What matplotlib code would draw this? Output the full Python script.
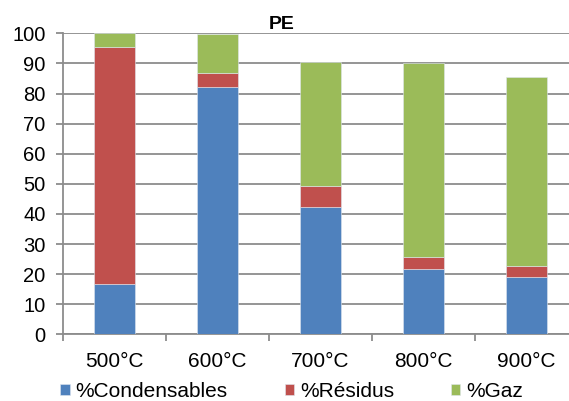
import matplotlib
matplotlib.use("Agg")
import matplotlib.pyplot as plt
import numpy as np

plt.rcParams['font.family'] = ['Liberation Sans', 'DejaVu Sans']

categories = ['500°C', '600°C', '700°C', '800°C', '900°C']
condensables = [16.6, 82.2, 42.2, 21.7, 18.9]
residus = [78.7, 4.7, 7.2, 4.0, 3.9]
gaz = [4.7, 12.9, 41.1, 64.3, 62.8]
series_names = ['%Condensables', '%Résidus', '%Gaz']
colors = ['#4F81BD', '#C0504D', '#9BBB59']

fig = plt.figure(figsize=(5.69, 4.01), dpi=100)
ax = fig.add_axes([62.7/569, (401-334.3)/401, 515/569, (334.3-33.3)/401])

x = np.arange(len(categories))
bottom = np.zeros(len(categories))
for vals, name, col in zip([condensables, residus, gaz], series_names, colors):
    ax.bar(x, vals, 0.4, bottom=bottom, color=col, label=name,
           edgecolor='#dfe6ef', linewidth=0.4, zorder=3)
    bottom += np.array(vals)

ax.set_xlim(-0.5, len(categories) - 0.5)
ax.set_ylim(0, 100)
ax.set_yticks(np.arange(0, 101, 10))
ax.yaxis.grid(True, color='#8c8c8c', linewidth=1.3, zorder=0)
ax.set_axisbelow(True)

fs = 15
ax.set_xticks(x)
ax.set_xticklabels(categories, fontsize=fs)
ax.set_xticks(np.arange(-0.5, len(categories)), minor=True)
ax.tick_params(axis='x', which='major', length=0, pad=13)
ax.tick_params(axis='x', which='minor', length=5, color='#8c8c8c', width=1.3)
ax.tick_params(axis='y', length=4.8, color='#8c8c8c', width=1.3, labelsize=14.5, pad=7.5)

for s in ['top', 'right']:
    ax.spines[s].set_visible(False)
for s in ['left', 'bottom']:
    ax.spines[s].set_color('#8c8c8c')
    ax.spines[s].set_linewidth(1.3)

fig.text(282/569, (401-29.3)/401, 'PE', fontsize=14, fontweight='bold',
         ha='center', va='baseline')

leg = fig.legend(loc='center', bbox_to_anchor=(291.7/569, (401-391.5)/401),
                 ncol=3, frameon=False, fontsize=fs, handlelength=0.44,
                 handleheight=0.44, handletextpad=0.28, columnspacing=2.75,
                 borderpad=0, borderaxespad=0)

fig.savefig('out.png', dpi=100)
